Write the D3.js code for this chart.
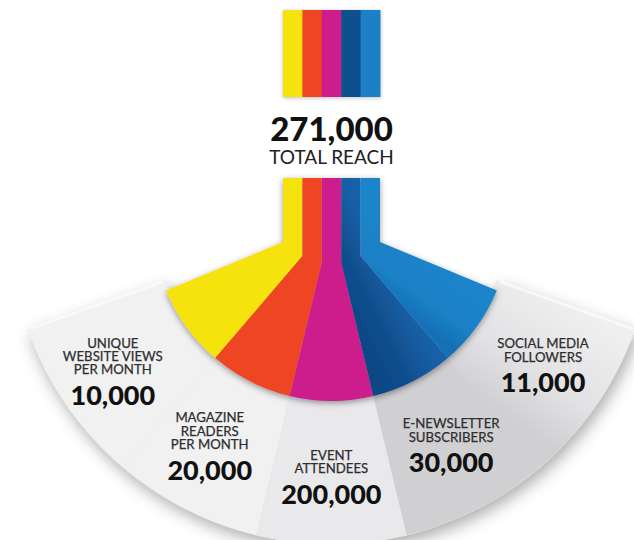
<!DOCTYPE html>
<html>
<head>
<meta charset="utf-8">
<script src="https://cdn.jsdelivr.net/npm/d3@7"></script>
<style>
  html, body { margin: 0; padding: 0; background: #fff; }
  svg { display: block; font-family: Lato, "Open Sans", sans-serif; }
</style>
</head>
<body>
<svg id="chart" width="634" height="540"></svg>
<script>
/* ─── Data ───────────────────────────────────────────────────────────────── */

const categories = ['website', 'magazine', 'event', 'newsletter', 'social'];
const labelLines = [
  ['UNIQUE', 'WEBSITE VIEWS', 'PER MONTH'],
  ['MAGAZINE', 'READERS', 'PER MONTH'],
  ['EVENT', 'ATTENDEES'],
  ['E-NEWSLETTER', 'SUBSCRIBERS'],
  ['SOCIAL MEDIA', 'FOLLOWERS'],
];
const values = [10000, 20000, 200000, 30000, 11000];
const totalLabel = 'TOTAL REACH';
const colors = ['#f6e20c', '#ee4423', '#cd1a8b', '#11508f', '#1a80c5'];

/* ─── Layout ─────────────────────────────────────────────────────────────── */

const W = 634, H = 540;
const cx = 331.5, cy = 222;           // fan centre
const rColor = 179, rGray = 322;
const deg = Math.PI / 180;
const grayExtra = 3 * deg;            // gray fan reaches a little past the colour fan

const svg = d3.select('#chart');
const defs = svg.append('defs');

const xBand = d3.scaleBand().domain(categories).range([283, 380]);
const aBand = d3.scaleBand().domain(categories).range([247.5 * deg, 112.5 * deg]);
const fmt = d3.format(',');

const pt  = (a, r) => [cx + r * Math.sin(a), cy - r * Math.cos(a)];
const hit = (xv, a) => [xv, cy - (xv - cx) / Math.sin(a) * Math.cos(a)];

/* ─── Filters ────────────────────────────────────────────────────────────── */

function shadow(id, dx, dy, sd, op) {
  const f = defs.append('filter').attr('id', id)
    .attr('x', '-20%').attr('y', '-20%').attr('width', '140%').attr('height', '140%');
  f.append('feDropShadow').attr('dx', dx).attr('dy', dy)
    .attr('stdDeviation', sd).attr('flood-color', '#000').attr('flood-opacity', op);
}
shadow('fanShadow', 3, 6, 8, 0.33);
shadow('colorShadow', 0, 2, 3, 0.4);
shadow('stripeShadow', 0, 1, 2, 0.25);

function linGrad(id, p0, p1, stops) {
  const g = defs.append('linearGradient').attr('id', id)
    .attr('gradientUnits', 'userSpaceOnUse')
    .attr('x1', p0[0]).attr('y1', p0[1]).attr('x2', p1[0]).attr('y2', p1[1]);
  stops.forEach(([o, c]) => g.append('stop').attr('offset', o).attr('stop-color', c));
  return `url(#${id})`;
}

/* ─── Gray fan ───────────────────────────────────────────────────────────── */

const grayArc = d3.arc().innerRadius(rColor - 4).outerRadius(rGray);
const gFan = svg.append('g').attr('transform', `translate(${cx},${cy})`);
const [aLo, aHi] = [aBand.range()[1] - grayExtra, aBand.range()[0] + grayExtra];

// soft shadow silhouette
gFan.append('path')
  .attr('d', grayArc({ startAngle: aLo, endAngle: aHi }))
  .attr('fill', '#ddd')
  .attr('filter', 'url(#fanShadow)');

const last = categories.length - 1;
categories.forEach((c, i) => {
  let s = aBand(c), e = s + aBand.bandwidth();
  if (i === 0) e += grayExtra;
  if (i === last) s -= grayExtra;
  const rm = (rColor + rGray) / 2;
  const stops = i < 2 ? [[0, '#f1f1f2'], [0.55, '#e5e5e7'], [1, '#d0d0d3']]
              : i === 2 ? [[0, '#e9e9eb'], [0.5, '#efeff0'], [1, '#e9e9eb']]
              : [[0, '#d0d0d3'], [0.4, '#e2e2e4'], [1, '#efeff0']];
  const fill = linGrad('seg' + i, pt(e, rm), pt(s, rm), stops);
  gFan.append('path')
    .attr('d', grayArc({ startAngle: s, endAngle: e }))
    .attr('fill', fill);
});

// light bevel along the two top edges
[aHi, aLo].forEach(a => {
  const p0 = pt(a, rColor), p1 = pt(a, rGray - 2);
  svg.append('line')
    .attr('x1', p0[0]).attr('y1', p0[1]).attr('x2', p1[0]).attr('y2', p1[1])
    .attr('stroke', '#fafafa').attr('stroke-width', 3).attr('opacity', 0.9);
});

/* ─── Colored stripes + wedges ───────────────────────────────────────────── */

const wedgeFill = [
  null, null, null,
  [[0, '#0e4685'], [0.5, '#11508f'], [1, '#1760a8']],
  [[0, '#166fb6'], [0.35, '#1a80c5'], [1, '#1b84c9']],
];

const gColor = svg.append('g').attr('filter', 'url(#colorShadow)');
categories.forEach((c, i) => {
  const x0 = xBand(c), x1 = x0 + xBand.bandwidth();
  const aS = aBand(c), aE = aS + aBand.bandwidth();
  const p = d3.path();
  p.moveTo(x0, 178);
  p.lineTo(x1, 178);
  p.lineTo(...hit(x1, aS));
  p.lineTo(...pt(aS, rColor));
  p.arc(cx, cy, rColor, aS - Math.PI / 2, aE - Math.PI / 2, false);
  p.lineTo(...hit(x0, aE));
  p.closePath();
  let fill = colors[i];
  if (wedgeFill[i]) {
    const rm = rColor * 0.75;
    fill = linGrad('wedge' + i, pt(aE, rm), pt(aS, rm), wedgeFill[i]);
  }
  gColor.append('path').attr('d', p.toString()).attr('fill', fill);
});

// top stripe block
const gTop = svg.append('g').attr('filter', 'url(#stripeShadow)');
gTop.selectAll('rect')
  .data(categories)
  .join('rect')
  .attr('x', d => xBand(d))
  .attr('y', 10)
  .attr('width', xBand.bandwidth() + 0.5)
  .attr('height', 87)
  .attr('fill', (d, i) => colors[i]);

/* ─── Total ──────────────────────────────────────────────────────────────── */

svg.append('text')
  .attr('x', cx).attr('y', 141)
  .attr('text-anchor', 'middle')
  .attr('font-size', 33).attr('font-weight', 900).attr('fill', '#111')
  .text(fmt(d3.sum(values)));

svg.append('text')
  .attr('x', cx).attr('y', 164)
  .attr('text-anchor', 'middle')
  .attr('font-size', 19).attr('fill', '#222')
  .text(totalLabel);

/* ─── Segment labels ─────────────────────────────────────────────────────── */

// label anchors sit on a slightly rotated ellipse around the fan
const lab = { cx: 323, cy: 239, rx: 266, ry: 255, rot: -1.8 * deg };

categories.forEach((c, i) => {
  const am = aBand(c) + aBand.bandwidth() / 2 + lab.rot;
  const nx = lab.cx + lab.rx * Math.sin(am);
  const ny = lab.cy - lab.ry * Math.cos(am);
  const g = svg.append('g');
  g.append('text')
    .attr('x', nx).attr('y', ny + 10)
    .attr('text-anchor', 'middle')
    .attr('font-size', 27).attr('font-weight', 900).attr('fill', '#111')
    .text(fmt(values[i]));
  const lines = labelLines[i];
  lines.forEach((t, k) => {
    const off = -25.5 - (lines.length - 1 - k) * 13.3;
    g.append('text')
      .attr('x', nx).attr('y', ny + off + 4.7)
      .attr('text-anchor', 'middle')
      .attr('font-size', 13.2).attr('fill', '#2e2e2e')
      .attr('stroke', '#2e2e2e').attr('stroke-width', 0.25)
      .text(t);
  });
});
</script>
</body>
</html>
